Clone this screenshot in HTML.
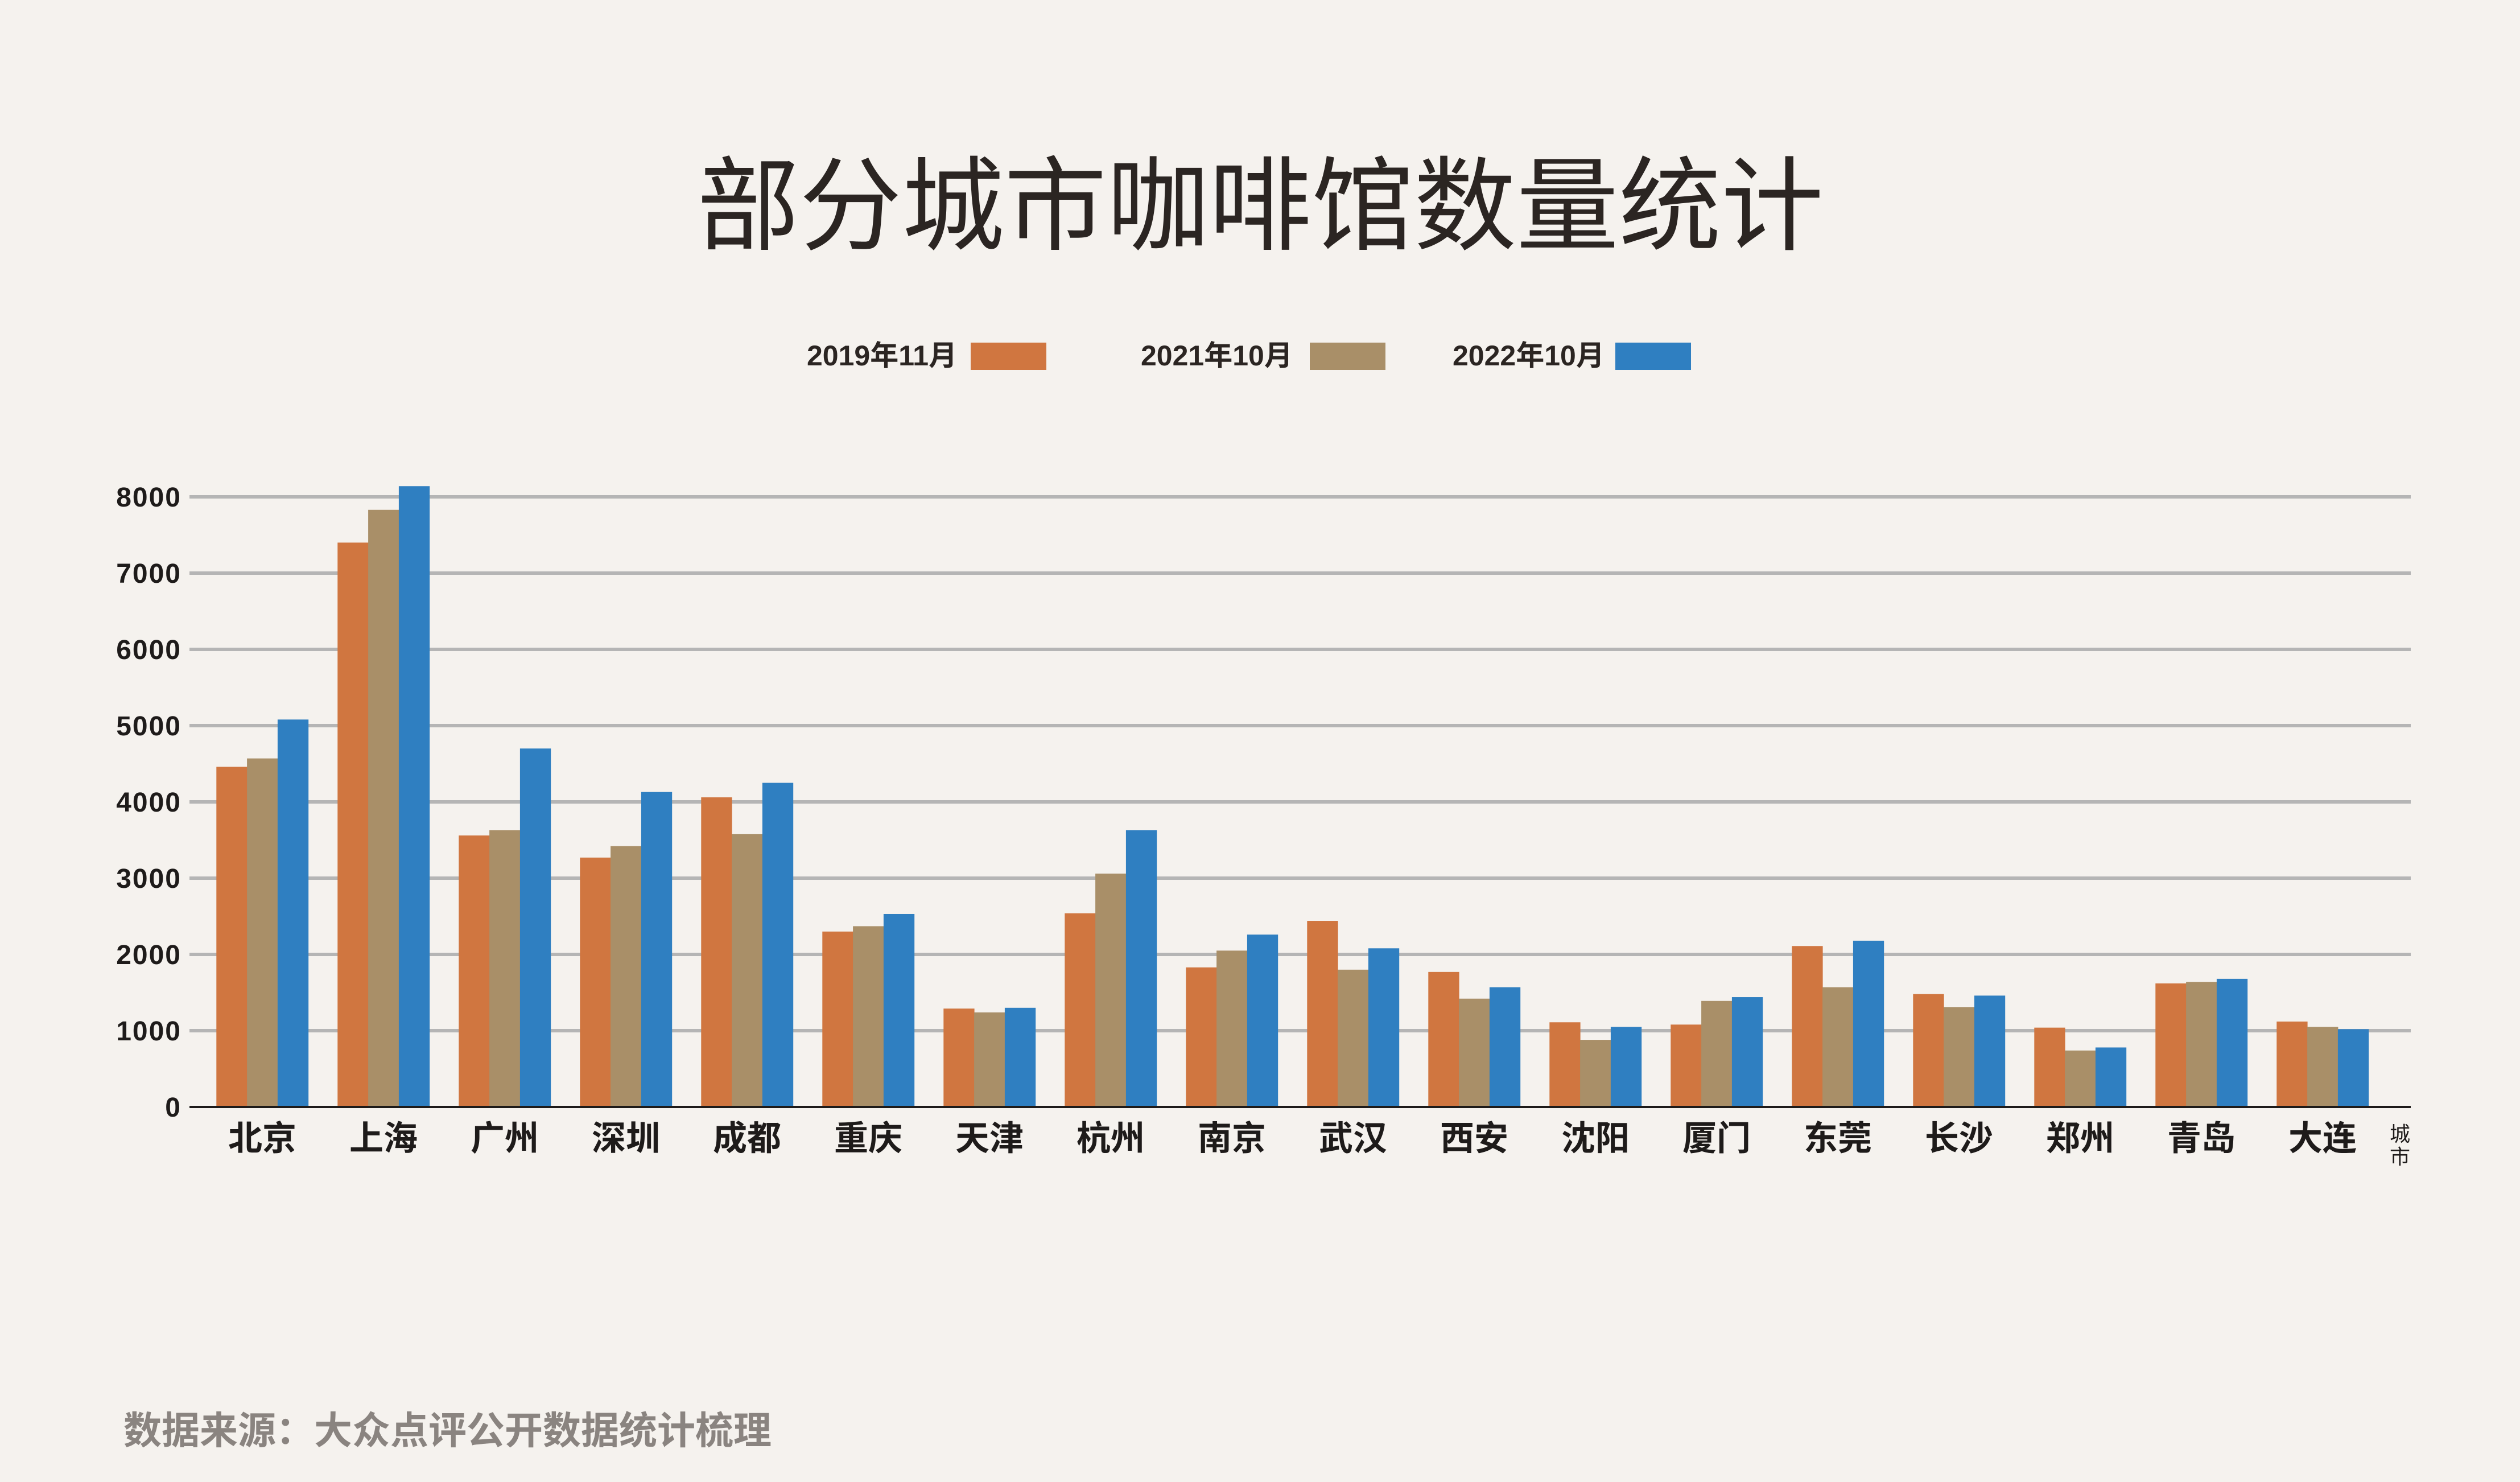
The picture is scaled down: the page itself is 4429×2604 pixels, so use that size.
<!DOCTYPE html>
<html><head><meta charset="utf-8">
<style>
html,body{margin:0;padding:0;background:#f5f2ee;}
svg{display:block;}
text{font-family:"Liberation Sans","Noto Sans CJK SC",sans-serif;}
</style></head>
<body>
<svg id="chart" width="4429" height="2604" viewBox="0 0 4429 2604" xmlns="http://www.w3.org/2000/svg">
<rect width="4429" height="2604" fill="#f5f2ee"/>
<text x="2215" y="425" text-anchor="middle" font-size="180" fill="#2b2522">部分城市咖啡馆数量统计</text>
<g>
  <text x="1418" y="642" font-size="50" font-weight="bold" fill="#2b2522">2019年11月</text>
  <rect x="1706" y="602" width="133" height="48" fill="#d07640"/>
  <text x="2005" y="642" font-size="50" font-weight="bold" fill="#2b2522">2021年10月</text>
  <rect x="2302" y="602" width="133" height="48" fill="#a98f68"/>
  <text x="2553" y="642" font-size="50" font-weight="bold" fill="#2b2522">2022年10月</text>
  <rect x="2839" y="602" width="133" height="48" fill="#2f7fc1"/>
</g>
<g id="grid"></g>
<g id="bars"></g>
<g id="axes"></g>
<text x="217" y="2537" font-size="67" font-weight="bold" fill="#8a8480">数据来源：大众点评公开数据统计梳理</text>
</svg>
<script>
const categories = ["北京","上海","广州","深圳","成都","重庆","天津","杭州","南京","武汉","西安","沈阳","厦门","东莞","长沙","郑州","青岛","大连"];
const s2019 = [4460,7400,3560,3270,4060,2300,1290,2540,1830,2440,1770,1110,1080,2110,1480,1040,1620,1120];
const s2021 = [4570,7830,3630,3420,3580,2370,1240,3060,2050,1800,1420,880,1390,1570,1310,740,1640,1050];
const s2022 = [5080,8140,4700,4130,4250,2530,1300,3630,2260,2080,1570,1050,1440,2180,1460,780,1680,1020];
const yTicks = [0,1000,2000,3000,4000,5000,6000,7000,8000];
const seriesNames = ["2019","2021","2022"];

const NS="http://www.w3.org/2000/svg";
const X0=333, X1=4237, Y0=1945, PER=0.134;
const firstCenter=461, band=213, barW=53.8;
const colors=["#d07640","#a98f68","#2f7fc1"];
function y(v){return Y0 - v*PER;}
function xc(i){return firstCenter + i*band;}
function mk(tag,attrs,parent){const e=document.createElementNS(NS,tag);for(const k in attrs)e.setAttribute(k,attrs[k]);parent.appendChild(e);return e;}
const grid=document.getElementById('grid'), bars=document.getElementById('bars'), axes=document.getElementById('axes');
yTicks.forEach(t=>{
  if(t>0){
    const l=mk('line',{x1:X0,x2:X1,y1:y(t),y2:y(t),stroke:'#b5b5b5','stroke-width':6},grid);
    
    
  }
  const tx=mk('text',{x:319,y:y(t)+17,'text-anchor':'end','font-size':48,'font-weight':'bold','letter-spacing':2,fill:'#1e1b1a'},axes);
  tx.textContent=t;
  
  
});
const all=[s2019,s2021,s2022];
categories.forEach((c,i)=>{
  const left=xc(i)-1.5*barW;
  all.forEach((s,j)=>{
    const r=mk('rect',{x:left+j*barW,y:y(s[i]),width:barW+0.5,height:s[i]*PER,fill:colors[j]},bars);
    
    
  });
  const t=mk('text',{x:xc(i),y:2021,'text-anchor':'middle','font-size':60,'font-weight':'bold',fill:'#1e1b1a'},axes);
  t.textContent=c;
  
  
});
const ax=mk('line',{x1:X0,x2:X1,y1:Y0,y2:Y0,stroke:'#1e1b1a','stroke-width':4},axes);


const a1=mk('text',{x:4218,y:2005,'text-anchor':'middle','font-size':36,fill:'#1e1b1a'},axes);
a1.textContent='城';


const a2=mk('text',{x:4218,y:2045,'text-anchor':'middle','font-size':36,fill:'#1e1b1a'},axes);
a2.textContent='市';


</script>
</body></html>
